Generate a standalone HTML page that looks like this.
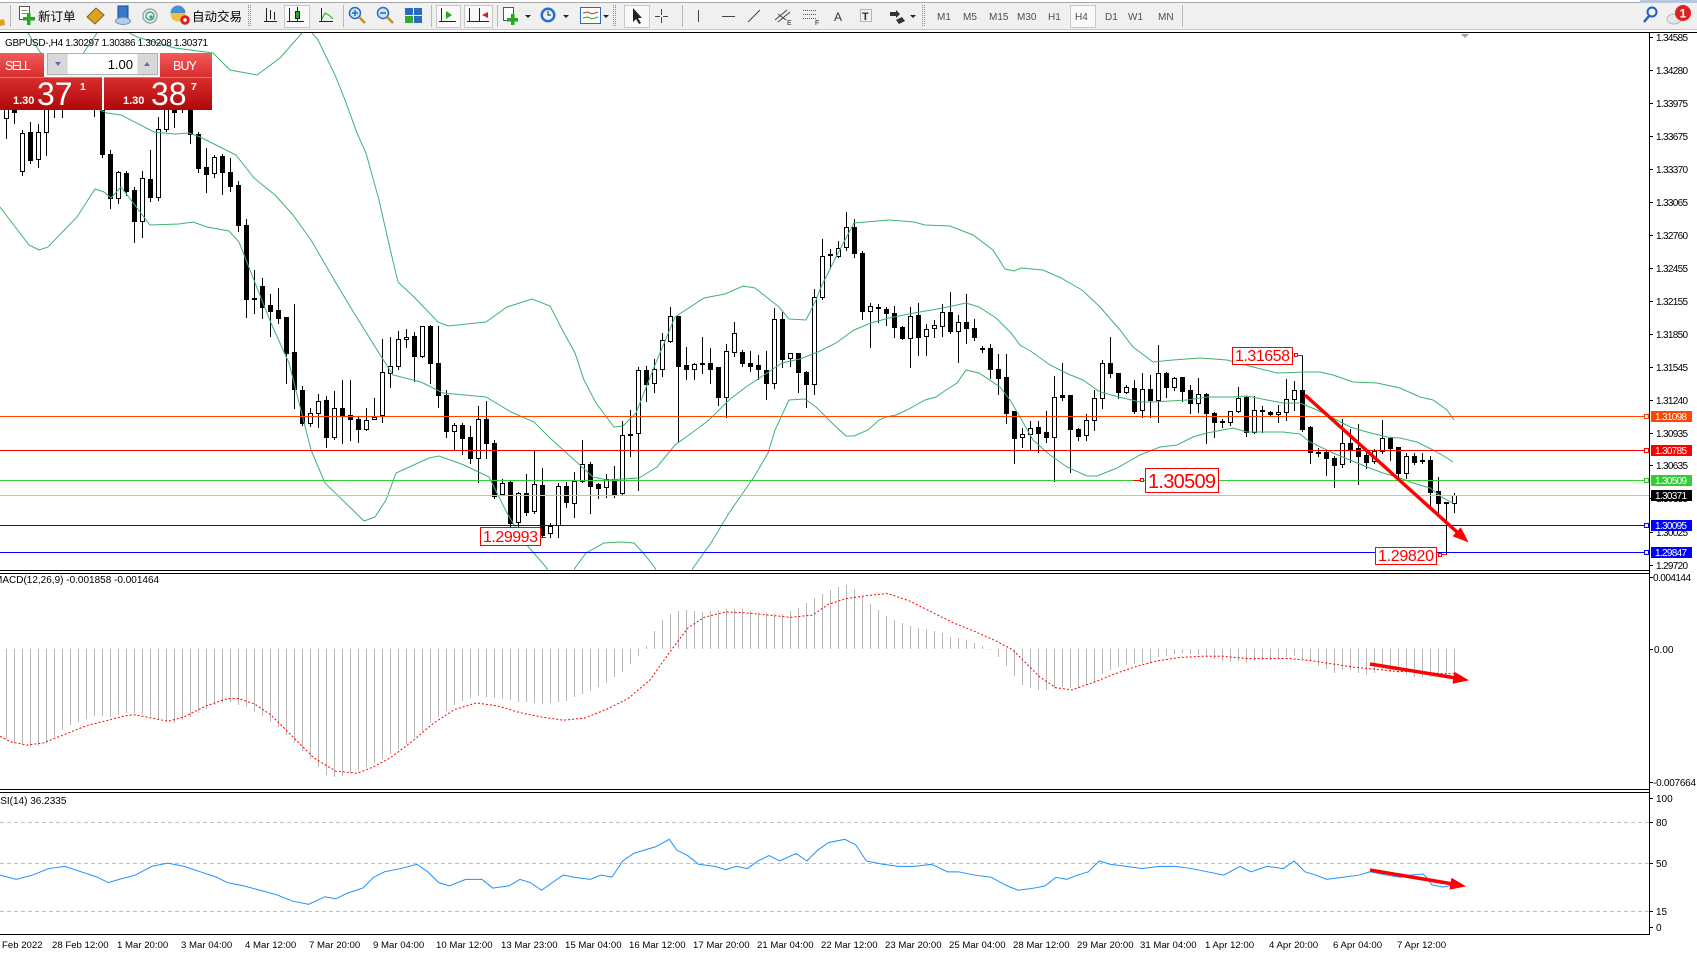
<!DOCTYPE html>
<html><head><meta charset="utf-8"><title>GBPUSD H4</title>
<style>
html,body{margin:0;padding:0;background:#fff}
body{width:1697px;height:953px;overflow:hidden}
svg{display:block}
text{font-family:"Liberation Sans","Noto Sans CJK SC",sans-serif}
.ax{font-size:10px;fill:#000}
.tf{font-size:10px;fill:#505050}
.tl{font-size:9.6px;fill:#000}
</style></head><body>
<svg width="1697" height="953" viewBox="0 0 1697 953" xmlns="http://www.w3.org/2000/svg">
<defs>
<clipPath id="cm"><rect x="0" y="33" width="1649" height="537"/></clipPath>
<clipPath id="cmacd"><rect x="0" y="574" width="1649" height="215"/></clipPath>
<clipPath id="crsi"><rect x="0" y="793" width="1649" height="141"/></clipPath>
<linearGradient id="gt" x1="0" y1="0" x2="0" y2="1"><stop offset="0" stop-color="#f35a5a"/><stop offset="1" stop-color="#d72e2e"/></linearGradient>
<linearGradient id="gb" x1="0" y1="0" x2="0" y2="1"><stop offset="0" stop-color="#d83030"/><stop offset="1" stop-color="#b00808"/></linearGradient>
</defs>

<!-- TOOLBAR -->
<rect width="1697" height="30" fill="#f0f0f0"/>
<rect width="1697" height="2" fill="#fff"/>
<line x1="0" y1="2.5" x2="1697" y2="2.5" stroke="#a8a8a8"/>
<line x1="0" y1="29.5" x2="1697" y2="29.5" stroke="#c8c8c8"/>
<rect y="30" width="1697" height="2" fill="#fff"/>
<rect x="1640" y="0" width="57" height="3" fill="#b8c8dc"/>

<g stroke="#b8b8b8">
<line x1="10.5" y1="5" x2="10.5" y2="27"/><line x1="343.5" y1="5" x2="343.5" y2="27"/>
<line x1="431.5" y1="5" x2="431.5" y2="27"/><line x1="497.5" y1="5" x2="497.5" y2="27"/>
<line x1="682.5" y1="5" x2="682.5" y2="27"/><line x1="1182.5" y1="5" x2="1182.5" y2="27"/>
</g>
<g stroke="#8a8a8a" stroke-dasharray="1,1">
<line x1="248.5" y1="5" x2="248.5" y2="27"/><line x1="250.5" y1="5" x2="250.5" y2="27"/>
<line x1="613.5" y1="5" x2="613.5" y2="27"/><line x1="615.5" y1="5" x2="615.5" y2="27"/>
<line x1="922.5" y1="5" x2="922.5" y2="27"/><line x1="924.5" y1="5" x2="924.5" y2="27"/>
</g>

<path d="M0,20 L4,19 L5,25 L0,26Z" fill="#e0a020"/>
<rect x="19.5" y="6.5" width="10" height="13" fill="#fff" stroke="#555"/>
<path d="M21.5,10.5h6M21.5,13.5h6" stroke="#888"/>
<rect x="27" y="13" width="3.5" height="12" fill="#22aa22"/><rect x="23" y="17" width="12" height="3.5" fill="#22aa22"/>
<text x="38" y="21" font-size="12.5">新订单</text>
<polygon points="87,17 96,8 104,15 95,24" fill="#d9a520" stroke="#8a6010"/>
<rect x="118" y="6" width="10" height="12" fill="#3a78c8" stroke="#1a4a90"/>
<ellipse cx="123" cy="21" rx="7.5" ry="3.5" fill="#b8cce8" stroke="#7090c0"/>
<circle cx="150" cy="16" r="7" fill="none" stroke="#99aaaa" stroke-width="1.5"/>
<circle cx="150" cy="16" r="4" fill="none" stroke="#44aa88" stroke-width="1.5"/>
<circle cx="151" cy="17" r="1.6" fill="#22aa66"/>
<circle cx="178" cy="14" r="7.5" fill="#f0c040"/>
<path d="M170.5,13 a7.5,7.5 0 0 1 15,0Z" fill="#4a90d0"/>
<circle cx="185" cy="20" r="4.8" fill="#e02020"/><circle cx="185" cy="20" r="1.8" fill="#fff"/>
<text x="192" y="21" font-size="12.5">自动交易</text>

<path d="M266.5,8v14M264,21.5h13M270.5,10v9M274.5,12v8" stroke="#222" fill="none"/>
<rect x="284.5" y="5.5" width="25" height="22" fill="#f9f9f9" stroke="#c8c8c8"/>
<path d="M289.5,8v14M287,21.5h17M297.5,7v15" stroke="#222" fill="none"/>
<rect x="295.5" y="11.5" width="4" height="7" fill="#22aa22" stroke="#222"/>
<path d="M321.5,8v14M319,21.5h14" stroke="#222" fill="none"/>
<path d="M322,19 L325,13 L329,15 L333,19" stroke="#22aa22" fill="none"/>
<circle cx="355" cy="13" r="5.5" fill="#cfe4fa" stroke="#2a6ac0" stroke-width="1.5"/>
<path d="M352,13h6M355,10v6" stroke="#2a6ac0" stroke-width="1.5"/>
<line x1="359" y1="17" x2="365" y2="23" stroke="#c89010" stroke-width="2.5"/>
<circle cx="383" cy="13" r="5.5" fill="#cfe4fa" stroke="#2a6ac0" stroke-width="1.5"/>
<path d="M380,13h6" stroke="#2a6ac0" stroke-width="1.5"/>
<line x1="387" y1="17" x2="393" y2="23" stroke="#c89010" stroke-width="2.5"/>
<rect x="405" y="8" width="8" height="7" fill="#2a6ac0"/><rect x="414" y="8" width="8" height="7" fill="#2a6ac0"/>
<rect x="405" y="16" width="8" height="7" fill="#33aa33"/><rect x="414" y="16" width="8" height="7" fill="#2a6ac0"/>
<rect x="436.5" y="5.5" width="24" height="22" fill="#f9f9f9" stroke="#c8c8c8"/>
<path d="M441.5,8v14M439,21.5h17" stroke="#222" fill="none"/>
<polygon points="446,11 452,15 446,19" fill="#22aa22"/>
<rect x="464.5" y="5.5" width="28" height="22" fill="#f9f9f9" stroke="#c8c8c8"/>
<path d="M469.5,8v14M467,21.5h22M479.5,8v14" stroke="#222" fill="none"/>
<polygon points="488,12 482,15 488,18" fill="#d02020"/>
<rect x="503.5" y="7.5" width="10" height="13" fill="#fff" stroke="#555"/>
<rect x="511" y="14" width="3.5" height="11" fill="#22aa22"/><rect x="507" y="18" width="11" height="3.5" fill="#22aa22"/>
<polygon points="525,15 531,15 528,18" fill="#222"/>
<circle cx="548" cy="15" r="7.5" fill="#2a70c8"/><circle cx="548" cy="15" r="5" fill="#e8f0fa"/>
<path d="M548,11v4h3" stroke="#222" fill="none"/>
<polygon points="563,15 569,15 566,18" fill="#222"/>
<rect x="580.5" y="7.5" width="20" height="16" fill="#fff" stroke="#2a6ac0"/>
<path d="M583,13 L588,12 L592,14 L598,12" stroke="#b04020" fill="none"/>
<path d="M583,18 L588,17 L592,19 L598,17" stroke="#22aa22" fill="none"/>
<polygon points="603,15 609,15 606,18" fill="#222"/>
<rect x="624.5" y="5.5" width="25" height="22" fill="#f9f9f9" stroke="#c8c8c8"/>
<polygon points="633,8 633,22 636,19 639,24 641,23 638,18 642,18" fill="#222"/>
<path d="M661.5,9v6M661.5,17v6M655,16.5h5M663,16.5h5" stroke="#444" fill="none"/>
<line x1="698.5" y1="10" x2="698.5" y2="22" stroke="#444"/>
<line x1="722" y1="16.5" x2="735" y2="16.5" stroke="#444"/>
<line x1="748" y1="22" x2="760" y2="10" stroke="#444"/>
<path d="M775,20 L787,10 M778,22 L790,12 M778,14 L786,20" stroke="#444" fill="none"/>
<text x="787" y="25" font-size="7" fill="#222">E</text>
<path d="M803,10.5h14M803,14.5h14M803,18.5h14" stroke="#555" stroke-dasharray="1,1" fill="none"/>
<text x="815" y="25" font-size="7" fill="#222">F</text>
<text x="834" y="21" font-size="12" fill="#333">A</text>
<rect x="860.5" y="9.5" width="11" height="12" fill="none" stroke="#777" stroke-dasharray="1,1"/>
<text x="862" y="20" font-size="11" fill="#333" font-weight="bold">T</text>
<path d="M890,12 L896,12 L896,10 L900,14 L896,18 L896,16 L890,16Z" fill="#333"/>
<polygon points="896,20 902,17 905,21 899,24" fill="#333"/>
<polygon points="910,15 916,15 913,18" fill="#222"/>

<text class="tf" x="937" y="20">M1</text>
<text class="tf" x="963" y="20">M5</text>
<text class="tf" x="989" y="20">M15</text>
<text class="tf" x="1017" y="20">M30</text>
<text class="tf" x="1048" y="20">H1</text>
<rect x="1070.5" y="5.5" width="25" height="22" fill="#f9f9f9" stroke="#c8c8c8"/>
<text class="tf" x="1075" y="20">H4</text>
<text class="tf" x="1105" y="20">D1</text>
<text class="tf" x="1128" y="20">W1</text>
<text class="tf" x="1158" y="20">MN</text>

<circle cx="1652" cy="12" r="4.5" fill="none" stroke="#2060c0" stroke-width="2"/>
<line x1="1649" y1="16" x2="1644" y2="22" stroke="#2060c0" stroke-width="2.5"/>
<ellipse cx="1674" cy="19" rx="7" ry="5" fill="#e6e6e6" stroke="#bbb"/>
<circle cx="1683" cy="13" r="8" fill="#e02020"/>
<text x="1683" y="17.5" font-size="12" font-weight="bold" fill="#fff" text-anchor="middle">1</text>

<!-- chart frame lines -->
<line x1="0" y1="32.5" x2="1697" y2="32.5" stroke="#000"/>
<polygon points="1461,34 1469,34 1465,38" fill="#a0a0a0"/>

<!-- MAIN CHART -->
<g clip-path="url(#cm)">
 <g id="cd" shape-rendering="crispEdges"></g>
 <g fill="none" stroke="#3cb371" stroke-width="1">
  <polyline points="0,5 28,33 40,52 60,72 80,58 97,33 115,25 137,37 175,48 213,53 230,70 257,75 280,58 302,33 308,28 318,40 335,75 345,100 357,133 366,153 379,200 388,240 398,282 414,297 438,322 448,326 486,322 507,307 532,299 550,306 564,333 575,353 584,380 596,403 614,427 623,426 636,413 655,365 675,317 704,298 725,294 743,286 755,288 779,307 789,319 806,320 816,300 821,287 836,257 854,223 889,220 914,222 925,225 950,226 973,235 993,250 1005,269 1014,271 1021,268 1043,270 1061,278 1082,290 1100,307 1120,330 1133,347 1153,362 1173,360 1200,358 1227,360 1253,367 1277,373 1307,372 1320,372 1333,375 1353,382 1377,383 1400,388 1420,397 1433,400 1447,410 1454,420"/>
  <polyline points="0,80 60,95 100,110 107,113 121,115 154,132 175,134 189,133 200,137 236,155 254,178 275,195 293,215 311,240 336,283 354,313 379,353 393,375 421,382 443,393 486,397 511,412 534,422 550,438 571,457 593,477 607,480 639,478 657,467 675,445 693,432 709,420 729,400 746,387 764,375 782,363 800,359 818,352 836,343 854,330 871,323 889,318 914,313 943,308 966,303 979,307 996,318 1011,333 1020,345 1032,352 1050,365 1068,374 1083,380 1100,392 1123,398 1140,402 1153,402 1187,400 1207,397 1233,397 1247,396 1267,400 1283,403 1300,403 1317,410 1333,418 1350,427 1367,432 1387,437 1400,438 1417,442 1433,450 1447,458 1453,462"/>
  <polyline points="0,207 29,245 39,250 48,247 77,217 95,189 104,192 111,198 121,187 150,225 179,224 193,222 207,227 229,231 239,242 250,270 271,323 289,363 311,450 325,483 364,521 375,517 386,500 396,473 429,458 439,456 464,465 489,477 507,513 525,543 546,567 556,590 565,590 575,568 586,553 604,543 621,542 634,543 645,555 655,568 664,590 684,590 693,568 711,543 729,513 754,477 768,453 775,430 789,400 805,399 816,407 832,423 846,436 854,436 868,430 879,420 886,417 896,415 907,410 925,400 936,397 946,390 957,383 966,370 979,373 1000,387 1010,400 1020,417 1033,440 1050,455 1067,467 1087,476 1097,476 1117,468 1140,455 1160,447 1177,445 1193,437 1207,433 1233,428 1247,432 1267,432 1283,432 1300,434 1310,442 1333,453 1350,460 1367,467 1383,473 1400,478 1413,483 1430,488 1443,498 1453,503"/>
 </g>
 <g shape-rendering="crispEdges">
  <line x1="0" y1="416.5" x2="1644" y2="416.5" stroke="#ff4500"/>
  <line x1="0" y1="450.5" x2="1644" y2="450.5" stroke="#ff0000"/>
  <line x1="0" y1="480.5" x2="1644" y2="480.5" stroke="#32cd32"/>
  <line x1="0" y1="495.5" x2="1649" y2="495.5" stroke="#c0c0c0"/>
  <line x1="0" y1="525.5" x2="1644" y2="525.5" stroke="#0000ff"/>
  <line x1="0" y1="552.5" x2="1644" y2="552.5" stroke="#0000ff"/>
  <rect x="1644.5" y="414.5" width="4" height="4" fill="#fff" stroke="#ff4500"/>
  <rect x="1644.5" y="448.5" width="4" height="4" fill="#fff" stroke="#ff0000"/>
  <rect x="1644.5" y="478.5" width="4" height="4" fill="#fff" stroke="#32cd32"/>
  <rect x="1644.5" y="523.5" width="4" height="4" fill="#fff" stroke="#0000ff"/>
  <rect x="1644.5" y="550.5" width="4" height="4" fill="#fff" stroke="#0000ff"/>
 </g>
 <!-- arrow -->
 <line x1="1305" y1="395" x2="1457" y2="532" stroke="#ff0000" stroke-width="3.5"/>
 <polygon points="1467,541 1460.6,528.6 1453.9,536.0" fill="#ff0000" stroke="#ff0000" stroke-width="1.5"/>
 <!-- price labels -->
 <rect x="1232.5" y="347.5" width="60" height="17" fill="#fff" stroke="#ff0000"/>
 <text x="1235" y="361" font-size="16" fill="#ff0000" textLength="55">1.31658</text>
 <rect x="1294.5" y="353.5" width="3" height="3" fill="#fff" stroke="#ff0000"/>
 <line x1="1298" y1="355.5" x2="1303" y2="355.5" stroke="#ff0000"/>
 <rect x="1145.5" y="468.5" width="73" height="24" fill="#fff" stroke="#ff0000"/>
 <text x="1148" y="488" font-size="20" fill="#ff0000" textLength="68">1.30509</text>
 <rect x="1140.5" y="478.5" width="3" height="3" fill="#fff" stroke="#ff0000"/>
 <line x1="1133" y1="480.5" x2="1140" y2="480.5" stroke="#ff0000"/>
 <rect x="1375.5" y="547.5" width="61" height="17" fill="#fff" stroke="#ff0000"/>
 <text x="1378" y="561" font-size="16" fill="#ff0000" textLength="56">1.29820</text>
 <rect x="1438.5" y="553.5" width="3" height="3" fill="#fff" stroke="#ff0000"/>
 <line x1="1442" y1="554.5" x2="1447" y2="554.5" stroke="#ff0000"/>
 <rect x="480.5" y="527.5" width="60" height="18" fill="#fff" stroke="#ff0000"/>
 <text x="483" y="542" font-size="16" fill="#ff0000" textLength="55">1.29993</text>
 <line x1="541" y1="537.5" x2="546" y2="537.5" stroke="#ff0000"/>
</g>

<!-- header text -->
<text x="5" y="46" font-size="10" textLength="203">GBPUSD-,H4  1.30297 1.30386 1.30208 1.30371</text>

<!-- SELL / BUY panel -->
<rect x="0" y="53" width="212" height="24" fill="#f4f4f4"/>
<rect x="0" y="53" width="44" height="24" fill="url(#gt)"/>
<text x="5" y="70" font-size="12.5" fill="#fff" textLength="26">SELL</text>
<rect x="47.5" y="53.5" width="110" height="21" fill="#e6e6e6" stroke="#b0b0b0"/>
<rect x="48" y="54" width="19" height="20" fill="#d8d8d8"/>
<polygon points="55,62 61,62 58,66" fill="#5a6fa8"/>
<rect x="68" y="54" width="69" height="20" fill="#fff"/>
<text x="133" y="69" font-size="13" text-anchor="end">1.00</text>
<rect x="138" y="54" width="19" height="20" fill="#d8d8d8"/>
<polygon points="144,66 150,66 147,62" fill="#5a6fa8"/>
<rect x="160" y="53" width="52" height="24" fill="url(#gt)"/>
<text x="173" y="70" font-size="12.5" fill="#fff" textLength="24">BUY</text>
<rect x="0" y="77" width="102" height="33" fill="url(#gb)"/>
<rect x="104" y="77" width="108" height="33" fill="url(#gb)"/>
<line x1="0" y1="77.5" x2="102" y2="77.5" stroke="#f07070"/>
<line x1="104" y1="77.5" x2="212" y2="77.5" stroke="#f07070"/>
<rect x="102" y="77" width="2" height="33" fill="#fff"/>
<text x="13" y="104" font-size="11" font-weight="bold" fill="#fff">1.30</text>
<text x="37" y="105" font-size="32" fill="#fff">37</text>
<text x="80" y="90" font-size="10.5" font-weight="bold" fill="#fff">1</text>
<text x="123" y="104" font-size="11" font-weight="bold" fill="#fff">1.30</text>
<text x="151" y="105" font-size="32" fill="#fff">38</text>
<text x="191" y="90" font-size="10.5" font-weight="bold" fill="#fff">7</text>

<!-- MACD -->
<g clip-path="url(#cmacd)">
 <g id="hist" shape-rendering="crispEdges" stroke="#b8b8b8"></g>
 <g transform="scale(1.083)">
 <polyline fill="none" stroke="#ff0000" stroke-width="1" stroke-dasharray="2,2" vector-effect="non-scaling-stroke" points="0,680 10,685 25,688 40,686 60,678 80,670 100,665 115,661 125,660 140,663 155,666 170,662 190,652 210,645 220,645 235,650 250,660 270,680 290,700 310,712 330,714 345,708 360,700 380,685 400,668 420,655 440,649 460,652 480,658 500,662 520,665 540,663 560,655 580,645 600,628 620,600 635,580 650,570 670,565 690,566 710,568 730,570 750,568 765,558 780,553 800,550 820,548 840,555 860,565 880,575 900,583 920,592 935,600 945,610 960,625 975,635 990,637 1010,630 1030,622 1050,615 1070,610 1090,607 1110,606 1130,606 1150,608 1170,608 1190,608 1210,610 1230,613 1250,616 1270,618 1290,620 1310,620 1330,622 1345,622"/>
 </g>
 <line x1="1370" y1="664" x2="1456" y2="678" stroke="#ff0000" stroke-width="3.5"/>
 <polygon points="1467,680 1453.4,682.8 1455.0,673.0" fill="#ff0000" stroke="#ff0000" stroke-width="1.5"/>
</g>
<text x="-6" y="583" font-size="10">MACD(12,26,9) -0.001858 -0.001464</text>

<!-- RSI -->
<g clip-path="url(#crsi)">
 <g stroke="#c0c0c0" stroke-dasharray="4,3" shape-rendering="crispEdges">
  <line x1="0" y1="822.5" x2="1649" y2="822.5"/>
  <line x1="0" y1="863.5" x2="1649" y2="863.5"/>
  <line x1="0" y1="911.5" x2="1649" y2="911.5"/>
 </g>
 <g transform="scale(1.083)">
 <polyline fill="none" stroke="#1e90ff" stroke-width="1" vector-effect="non-scaling-stroke" points="0,808 15,812 30,808 45,802 60,800 75,805 90,810 100,815 110,812 125,808 140,800 155,797 170,800 185,805 200,810 210,815 225,818 240,822 255,826 270,832 285,835 300,828 310,830 320,825 335,820 345,810 355,805 370,802 385,798 395,805 405,815 415,818 430,812 445,812 455,820 470,818 480,812 490,815 500,822 510,815 520,808 530,810 545,812 555,808 565,810 575,795 585,788 595,785 605,782 618,775 625,785 635,790 645,798 660,800 670,803 680,800 690,802 700,795 710,790 720,795 735,788 745,795 755,785 765,778 780,775 790,780 800,795 815,798 830,800 845,800 860,798 875,805 885,805 900,808 915,810 930,818 940,822 955,820 965,818 975,810 985,812 995,808 1005,805 1015,795 1025,798 1040,800 1055,802 1070,800 1085,800 1100,802 1115,805 1130,808 1145,800 1155,805 1170,800 1185,802 1195,795 1205,805 1215,808 1225,812 1240,810 1255,808 1265,805 1280,808 1293,810 1302,808 1314,807 1318,811 1322,817 1332,819 1339,818 1342,815"/>
 </g>
 <line x1="1370" y1="870" x2="1453" y2="884" stroke="#ff0000" stroke-width="3.5"/>
 <polygon points="1464,886 1450.4,888.7 1452.0,878.9" fill="#ff0000" stroke="#ff0000" stroke-width="1.5"/>
</g>
<text x="-7" y="804" font-size="10">RSI(14) 36.2335</text>

<!-- frames -->
<g stroke="#000" shape-rendering="crispEdges">
 <line x1="0" y1="570.5" x2="1650" y2="570.5"/>
 <line x1="0" y1="573.5" x2="1650" y2="573.5"/>
 <line x1="0" y1="789.5" x2="1650" y2="789.5"/>
 <line x1="0" y1="792.5" x2="1650" y2="792.5"/>
 <line x1="0" y1="934.5" x2="1650" y2="934.5"/>
 <line x1="1649.5" y1="32" x2="1649.5" y2="935"/>
</g>

<!-- price axis ticks -->
<g stroke="#000" shape-rendering="crispEdges">
 <path d="M1650,37.5h3M1650,70.5h3M1650,103.5h3M1650,136.5h3M1650,169.5h3M1650,202.5h3M1650,235.5h3M1650,268.5h3M1650,301.5h3M1650,334.5h3M1650,367.5h3M1650,400.5h3M1650,433.5h3M1650,465.5h3M1650,498.5h3M1650,532.5h3M1650,565.5h3M1650,577.5h3M1650,649.5h3M1650,782.5h3M1650,798.5h3M1650,822.5h3M1650,863.5h3M1650,911.5h3M1650,927.5h3"/>
</g>
<g class="ax">
<text class="ax" x="1656" y="41" textLength="32">1.34585</text>
<text class="ax" x="1656" y="74" textLength="32">1.34280</text>
<text class="ax" x="1656" y="107" textLength="32">1.33975</text>
<text class="ax" x="1656" y="140" textLength="32">1.33675</text>
<text class="ax" x="1656" y="173" textLength="32">1.33370</text>
<text class="ax" x="1656" y="206" textLength="32">1.33065</text>
<text class="ax" x="1656" y="239" textLength="32">1.32760</text>
<text class="ax" x="1656" y="272" textLength="32">1.32455</text>
<text class="ax" x="1656" y="305" textLength="32">1.32155</text>
<text class="ax" x="1656" y="338" textLength="32">1.31850</text>
<text class="ax" x="1656" y="371" textLength="32">1.31545</text>
<text class="ax" x="1656" y="404" textLength="32">1.31240</text>
<text class="ax" x="1656" y="437" textLength="32">1.30935</text>
<text class="ax" x="1656" y="469" textLength="32">1.30635</text>
<text class="ax" x="1656" y="502" textLength="32">1.30335</text>
<text class="ax" x="1656" y="536" textLength="32">1.30025</text>
<text class="ax" x="1656" y="569" textLength="32">1.29720</text>
</g>
<!-- colored level labels -->
<rect x="1651" y="411" width="41" height="11" fill="#ff4500"/>
<text x="1655" y="420" font-size="10" fill="#fff" textLength="32">1.31098</text>
<rect x="1651" y="445" width="41" height="11" fill="#ff0000"/>
<text x="1655" y="454" font-size="10" fill="#fff" textLength="32">1.30785</text>
<rect x="1651" y="475" width="41" height="11" fill="#32cd32"/>
<text x="1655" y="484" font-size="10" fill="#fff" textLength="32">1.30509</text>
<rect x="1651" y="490" width="41" height="11" fill="#000"/>
<text x="1655" y="499" font-size="10" fill="#fff" textLength="32">1.30371</text>
<rect x="1651" y="520" width="41" height="11" fill="#0000ff"/>
<text x="1655" y="529" font-size="10" fill="#fff" textLength="32">1.30095</text>
<rect x="1651" y="547" width="41" height="11" fill="#0000ff"/>
<text x="1655" y="556" font-size="10" fill="#fff" textLength="32">1.29847</text>

<!-- MACD / RSI axis -->
<text class="ax" x="1653" y="581" textLength="38">0.004144</text>
<text class="ax" x="1654" y="653">0.00</text>
<text class="ax" x="1653" y="786" textLength="43">-0.007664</text>
<text class="ax" x="1656" y="802">100</text>
<text class="ax" x="1656" y="826">80</text>
<text class="ax" x="1656" y="867">50</text>
<text class="ax" x="1656" y="915">15</text>
<text class="ax" x="1656" y="931">0</text>

<!-- time axis -->
<g class="tl">
<text class="tl" x="2" y="948">Feb 2022</text>
<text class="tl" x="52" y="948">28 Feb 12:00</text>
<text class="tl" x="117" y="948">1 Mar 20:00</text>
<text class="tl" x="181" y="948">3 Mar 04:00</text>
<text class="tl" x="245" y="948">4 Mar 12:00</text>
<text class="tl" x="309" y="948">7 Mar 20:00</text>
<text class="tl" x="373" y="948">9 Mar 04:00</text>
<text class="tl" x="436" y="948">10 Mar 12:00</text>
<text class="tl" x="501" y="948">13 Mar 23:00</text>
<text class="tl" x="565" y="948">15 Mar 04:00</text>
<text class="tl" x="629" y="948">16 Mar 12:00</text>
<text class="tl" x="693" y="948">17 Mar 20:00</text>
<text class="tl" x="757" y="948">21 Mar 04:00</text>
<text class="tl" x="821" y="948">22 Mar 12:00</text>
<text class="tl" x="885" y="948">23 Mar 20:00</text>
<text class="tl" x="949" y="948">25 Mar 04:00</text>
<text class="tl" x="1013" y="948">28 Mar 12:00</text>
<text class="tl" x="1077" y="948">29 Mar 20:00</text>
<text class="tl" x="1140" y="948">31 Mar 04:00</text>
<text class="tl" x="1205" y="948">1 Apr 12:00</text>
<text class="tl" x="1269" y="948">4 Apr 20:00</text>
<text class="tl" x="1333" y="948">6 Apr 04:00</text>
<text class="tl" x="1397" y="948">7 Apr 12:00</text>
</g>
</svg>
<script>
var C=[[1,98,118,85,138],[0,100,112,90,123],[1,133,171,130,175],[0,132,160,122,163],[1,132,159,124,167],[1,95,132,85,155],[0,95,108,88,117],[1,90,104,80,117],[0,80,100,72,106],[1,75,95,68,104],[0,78,98,70,106],[0,88,104,80,116],[0,95,154,90,157],[0,154,198,150,208],[1,172,198,171,203],[0,173,191,171,195],[0,190,221,187,242],[1,178,221,171,237],[0,179,197,150,201],[1,129,197,117,200],[1,100,129,85,131],[0,98,112,88,127],[1,92,105,85,112],[0,100,134,92,143],[0,134,168,132,172],[0,167,174,148,192],[1,157,173,155,177],[0,156,172,154,194],[0,172,186,158,191],[0,185,225,181,231],[0,225,299,219,317],[0,298,299,270,313],[0,286,307,278,318],[0,305,311,294,336],[0,310,318,288,323],[0,317,353,317,383],[0,352,389,304,408],[0,390,423,386,425],[1,413,423,408,426],[1,401,413,394,427],[0,400,437,396,447],[1,408,437,391,439],[0,408,416,380,443],[0,415,419,380,440],[0,419,429,417,442],[1,420,429,408,430],[1,417,419,398,419],[1,372,415,339,422],[1,366,373,337,387],[1,339,366,331,369],[1,337,339,329,347],[0,336,356,332,381],[1,326,356,326,357],[0,326,363,325,383],[0,363,395,326,407],[0,395,431,390,437],[1,425,431,423,450],[0,425,438,423,454],[0,437,458,426,463],[1,419,458,406,482],[0,419,443,401,458],[0,443,496,440,498],[1,483,494,479,495],[0,482,523,480,526],[1,493,522,492,527],[0,493,512,474,515],[1,484,511,450,513],[0,485,535,468,537],[1,526,533,523,537],[1,486,525,483,537],[0,486,502,482,507],[1,481,503,472,517],[1,464,481,440,482],[0,464,486,462,513],[0,484,488,483,498],[1,479,487,474,497],[0,479,494,466,497],[1,435,493,421,495],[0,434,435,410,456],[1,370,433,367,490],[0,370,384,366,401],[1,369,383,359,392],[1,340,369,333,376],[1,316,341,307,342],[0,316,366,316,441],[0,365,369,347,379],[1,364,369,363,379],[0,363,364,337,373],[0,363,369,348,383],[0,367,397,367,405],[1,351,397,344,417],[1,333,352,322,356],[0,352,363,350,366],[0,363,366,351,371],[0,365,369,355,379],[0,370,383,351,399],[1,319,383,308,388],[0,319,359,312,367],[1,353,358,353,366],[0,353,372,353,392],[0,372,384,371,407],[1,297,384,289,394],[1,256,297,239,299],[0,254,255,249,268],[1,248,256,241,257],[1,227,247,212,250],[0,227,253,219,257],[0,253,311,251,319],[1,306,311,303,347],[0,307,308,304,322],[0,309,313,307,325],[0,313,327,306,337],[0,327,338,326,339],[1,316,338,307,367],[0,315,337,303,355],[1,329,336,324,355],[1,325,328,320,337],[1,312,326,304,336],[0,312,331,292,333],[1,322,331,315,362],[0,322,328,294,343],[0,328,337,319,340],[0,348,349,346,352],[0,348,369,344,378],[0,369,378,354,394],[0,377,413,354,423],[0,411,438,411,463],[1,434,437,428,447],[1,428,434,421,450],[0,427,433,421,452],[0,432,437,411,442],[1,397,437,376,481],[0,395,397,363,400],[0,395,429,395,472],[0,429,436,428,440],[1,420,435,414,440],[1,398,420,390,430],[1,363,398,360,408],[0,363,373,337,377],[0,373,392,373,398],[1,387,392,385,393],[0,388,411,380,413],[1,389,410,373,417],[0,389,400,375,417],[1,373,400,345,422],[0,373,387,372,397],[1,378,387,377,390],[0,377,391,377,401],[0,390,403,385,413],[1,394,403,378,412],[0,394,413,393,443],[0,413,422,412,437],[0,421,422,419,427],[1,411,422,411,425],[1,398,411,387,412],[0,397,432,396,436],[1,410,432,396,433],[0,410,411,406,432],[0,412,414,411,416],[1,412,414,405,422],[1,399,412,379,420],[1,390,399,381,410],[0,390,429,355,431],[0,427,452,426,463],[0,452,453,448,456],[0,452,458,451,475],[0,458,465,456,487],[1,443,464,419,467],[0,443,450,429,462],[0,448,456,424,484],[0,455,462,452,468],[1,451,461,449,463],[1,438,451,420,453],[0,438,448,437,460],[0,447,473,447,478],[1,456,473,453,478],[0,456,462,453,464],[0,460,461,453,463],[0,460,492,456,508],[0,491,503,477,512],[0,502,503,502,554],[1,495,503,493,512]];
var s='',i,c,x;
for(i=0;i<C.length;i++){c=C[i];x=6+8*i;
 s+='<line x1="'+(x+.5)+'" y1="'+c[3]+'" x2="'+(x+.5)+'" y2="'+(c[4]+1)+'" stroke="#000"/>';
 if(c[0]){s+='<rect x="'+(x-1.5)+'" y="'+(c[1]+.5)+'" width="4" height="'+Math.max(c[2]-c[1],1)+'" fill="#fff" stroke="#000"/>';}
 else{s+='<rect x="'+(x-2)+'" y="'+c[1]+'" width="5" height="'+Math.max(c[2]-c[1]+1,2)+'" fill="#000"/>';}
}
document.getElementById('cd').innerHTML=s;
var H=[[0,680],[10,685],[20,688],[30,690],[40,688],[50,680],[60,672],[75,665],[90,660],[100,662],[110,660],[120,658],[135,660],[150,665],[160,668],[175,662],[190,655],[200,650],[210,648],[225,652],[240,660],[255,670],[270,685],[285,700],[300,715],[310,718],[320,715],[335,710],[345,705],[355,700],[370,690],[385,680],[400,665],[420,650],[440,642],[460,645],[480,648],[500,650],[520,648],[540,640],[560,630],[575,620],[590,605],[600,592],[605,580],[615,568],[630,563],[650,565],[665,563],[680,562],[700,565],[720,568],[740,560],[755,550],[770,543],[780,540],[790,545],[800,555],[820,570],[840,578],[860,582],[880,587],[900,592],[915,598],[925,610],[935,625],[945,635],[960,638],[975,635],[990,625],[1000,615],[1015,605],[1030,600],[1050,598],[1070,594],[1090,591],[1110,590],[1130,592],[1150,596],[1170,600],[1190,600],[1200,603],[1220,610],[1240,612],[1260,612],[1280,615],[1300,617],[1320,618],[1340,620],[1350,622]];
var H2=[[950,637],[958,638],[967,640],[975,643],[982,646],[990,650],[998,657],[1006,666],[1014,676],[1022,685],[1030,688],[1038,690],[1047,690],[1054,689],[1062,687],[1070,688],[1078,688],[1087,685],[1094,683],[1103,673],[1111,670],[1118,667],[1127,665],[1134,664],[1142,663],[1150,663],[1158,657],[1167,656],[1174,654],[1182,653],[1190,654],[1198,655],[1207,657],[1215,659],[1223,661],[1231,662],[1239,661],[1247,663],[1255,661],[1263,660],[1271,660],[1279,659],[1287,657],[1295,656],[1303,659],[1311,661],[1319,667],[1327,669],[1335,673],[1343,670],[1351,670],[1359,673],[1367,675],[1375,673],[1383,670],[1391,672],[1399,673],[1407,675],[1415,677],[1423,677],[1431,677],[1439,677],[1447,677],[1455,678]];
function ip(P,v){for(var k=0;k<P.length-1;k++){if(v<=P[k+1][0]){var t=(v-P[k][0])/(P[k+1][0]-P[k][0]);return P[k][1]+t*(P[k+1][1]-P[k][1]);}}return P[P.length-1][1];}
var h='',y;
for(i=0;i<182;i++){x=6+8*i;
 if(x>=950){y=Math.round(ip(H2,x));}else{y=Math.round(ip(H,x/1.083)*1.083);}
 h+='<line x1="'+(x+.5)+'" y1="649" x2="'+(x+.5)+'" y2="'+y+'"/>';}
document.getElementById('hist').innerHTML=h;
</script>
</body></html>
